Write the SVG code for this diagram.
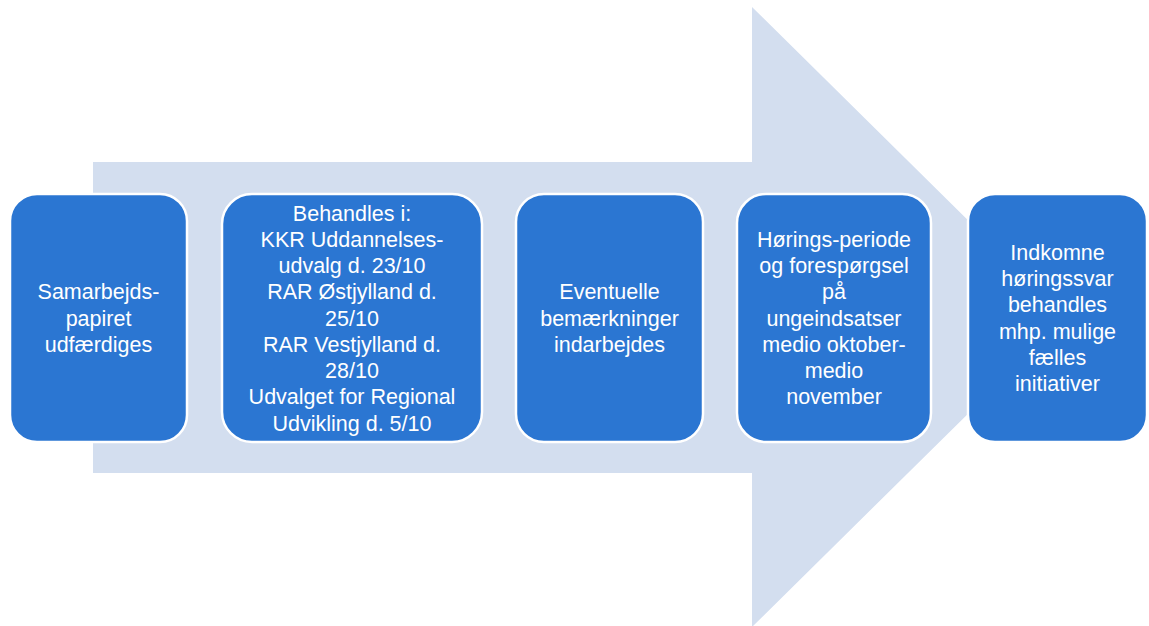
<svg xmlns="http://www.w3.org/2000/svg" width="1149" height="626" viewBox="0 0 1149 626">
<style>
.box{fill:#2B76D2;stroke:#FFFFFF;stroke-width:2.5}
.t{font-family:"Liberation Sans",Arial,sans-serif;font-size:21.5px;fill:#FFFFFF;text-anchor:middle}
</style>
<rect width="1149" height="626" fill="#FFFFFF"/>
<g id="connectors">
<path id="big-arrow" d="M93,162 H752 V7 L1066,317 L752,627 V473 H93 Z" fill="#D3DEEF"/>
</g>
<g id="node1">
<rect class="box" x="10" y="194" width="177" height="248" rx="27"/>
<text class="t" x="98.5" y="299">Samarbejds-</text>
<text class="t" x="98.5" y="325.5">papiret</text>
<text class="t" x="98.5" y="351.5">udfærdiges</text>
</g>
<g id="node2">
<rect class="box" x="222" y="194" width="260" height="248" rx="30"/>
<text class="t" x="352" y="220.5">Behandles i:</text>
<text class="t" x="352" y="246.5">KKR Uddannelses-</text>
<text class="t" x="352" y="273">udvalg d. 23/10</text>
<text class="t" x="352" y="299">RAR Østjylland d.</text>
<text class="t" x="352" y="325.5">25/10</text>
<text class="t" x="352" y="351.5">RAR Vestjylland d.</text>
<text class="t" x="352" y="378">28/10</text>
<text class="t" x="352" y="404">Udvalget for Regional</text>
<text class="t" x="352" y="430.5">Udvikling d. 5/10</text>
</g>
<g id="node3">
<rect class="box" x="516" y="194" width="187" height="248" rx="28"/>
<text class="t" x="609.5" y="299">Eventuelle</text>
<text class="t" x="609.5" y="325.5">bemærkninger</text>
<text class="t" x="609.5" y="351.5">indarbejdes</text>
</g>
<g id="node4">
<rect class="box" x="737" y="194" width="194" height="248" rx="29"/>
<text class="t" x="834" y="246.5">Hørings-periode</text>
<text class="t" x="834" y="273">og forespørgsel</text>
<text class="t" x="834" y="299">på</text>
<text class="t" x="834" y="325.5">ungeindsatser</text>
<text class="t" x="834" y="351.5">medio oktober-</text>
<text class="t" x="834" y="378">medio</text>
<text class="t" x="834" y="404">november</text>
</g>
<g id="node5">
<rect class="box" x="968" y="194" width="179" height="248" rx="27"/>
<text class="t" x="1057.5" y="259.5">Indkomne</text>
<text class="t" x="1057.5" y="286">høringssvar</text>
<text class="t" x="1057.5" y="312">behandles</text>
<text class="t" x="1057.5" y="338.5">mhp. mulige</text>
<text class="t" x="1057.5" y="364.5">fælles</text>
<text class="t" x="1057.5" y="391">initiativer</text>
</g>
</svg>
